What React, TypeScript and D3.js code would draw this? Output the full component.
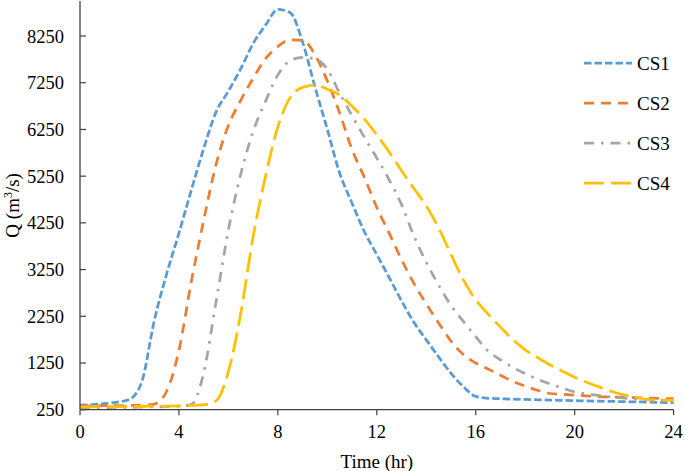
import * as d3 from 'd3';

// time steps (hr)
const hours = [
  0, 0.5, 1, 1.5, 2, 2.5, 3, 3.5, 4, 4.5, 5, 5.5, 6, 6.5, 7, 7.5, 8, 8.5, 9, 9.5, 10, 10.5, 11, 11.5, 12,
  12.5, 13, 13.5, 14, 14.5, 15, 15.5, 16, 16.5, 17, 17.5, 18, 18.5, 19, 19.5, 20, 20.5, 21, 21.5, 22, 22.5,
  23, 23.5, 24,
];

// discharge (m3/s)
const cs1 = [
  350, 360, 380, 410, 470, 850, 2150, 3150, 4030, 4950, 5840, 6620, 7070, 7550, 8090, 8480, 8820, 8750,
  8120, 7160, 6250, 5313, 4670, 4060, 3570, 3080, 2580, 2120, 1745, 1380, 1028, 744, 535, 495, 485, 475,
  470, 462, 455, 450, 443, 438, 432, 427, 422, 417, 412, 406, 400,
];
const cs2 = [
  330, 332, 335, 338, 340, 345, 370, 640, 1520, 2990, 4300, 5500, 6335, 6875, 7347, 7765, 8025, 8170,
  8160, 7850, 7287, 6600, 5817, 5220, 4580, 4030, 3463, 2956, 2516, 2107, 1720, 1430, 1250, 1120, 989, 857,
  755, 666, 597, 580, 563, 546, 529, 520, 512, 505, 497, 490, 485,
];
const cs3 = [
  290, 292, 295, 298, 300, 305, 310, 315, 325, 360, 1037, 2555, 4097, 5297, 6205, 6852, 7418, 7724, 7794,
  7760, 7538, 7023, 6544, 6080, 5640, 5172, 4643, 3970, 3406, 2918, 2482, 2140, 1814, 1506, 1319, 1156,
  1022, 904, 805, 712, 632, 590, 552, 520, 500, 479, 465, 452, 440,
];
const cs4 = [
  310, 312, 315, 318, 320, 322, 325, 328, 332, 340, 355, 440, 1063, 2313, 3954, 5243, 6306, 6937, 7150,
  7200, 7110, 6987, 6748, 6473, 6135, 5768, 5367, 4987, 4611, 4144, 3574, 3029, 2602, 2298, 2017, 1752,
  1530, 1365, 1209, 1076, 944, 832, 736, 640, 569, 516, 463, 455, 450,
];

const seriesNames = ['CS1', 'CS2', 'CS3', 'CS4'];
const seriesValues = [cs1, cs2, cs3, cs4];
const xTicks = [0, 4, 8, 12, 16, 20, 24];
const yTicks = [250, 1250, 2250, 3250, 4250, 5250, 6250, 7250, 8250];

const colors = ['#5b9bd5', '#ed7d31', '#a5a5a5', '#ffc000'];
const dashes = ['7.5 3', '10 7', '10 7 2.5 7', '20 7'];

const width = 685;
const height = 471;

export default function App() {
  const x = d3.scaleLinear().domain([0, 24]).range([80, 673.6]);
  const y = d3.scaleLinear().domain([250, 9000]).range([409.7, 1]);

  const line = d3
    .line<number>()
    .x((_, i) => x(hours[i]))
    .y((d) => y(d))
    .curve(d3.curveMonotoneX);

  const [x0, x1] = x.range();
  const [y0, y1] = y.range();
  const txt = { fontFamily: "'Liberation Serif'" };

  return (
    <svg
      width={width}
      height={height}
      viewBox={`0 0 ${width} ${height}`}
      style={{ position: 'absolute', left: 0, top: 0, background: '#fff' }}
    >
      {seriesValues.map((vals, i) => (
        <path
          key={seriesNames[i]}
          d={line(vals) ?? ''}
          fill="none"
          stroke={colors[i]}
          strokeWidth={2.75}
          strokeDasharray={dashes[i]}
        />
      ))}

      {/* axes */}
      <line x1={x0} x2={x0} y1={y1} y2={y0} stroke="#404040" strokeWidth={1.3} />
      <line x1={x0} x2={x1} y1={y0} y2={y0} stroke="#404040" strokeWidth={1.3} />

      {yTicks.map((t) => (
        <g key={`y-${t}`} transform={`translate(0,${y(t)})`}>
          <line x1={x0} x2={x0 + 6} stroke="#404040" strokeWidth={1.2} />
          <text x={64} dy="0.35em" textAnchor="end" fontSize={18.5} fill="#000" style={txt}>
            {t}
          </text>
        </g>
      ))}

      {xTicks.map((t) => (
        <g key={`x-${t}`} transform={`translate(${x(t)},0)`}>
          <line y1={y0} y2={y0 + 5.5} stroke="#404040" strokeWidth={1.2} />
          <text y={438} textAnchor="middle" fontSize={18.5} fill="#000" style={txt}>
            {t}
          </text>
        </g>
      ))}

      <text x={(x0 + x1) / 2} y={468} textAnchor="middle" fontSize={19} fill="#000" style={txt}>
        Time (hr)
      </text>
      <text
        transform={`translate(19,${(y0 + y1) / 2}) rotate(-90)`}
        textAnchor="middle"
        fontSize={19}
        fill="#000"
        style={txt}
      >
        Q (m
        <tspan fontSize={12} dy={-7}>
          3
        </tspan>
        <tspan dy={7}>/s)</tspan>
      </text>

      {/* legend */}
      {seriesNames.map((name, i) => {
        const ly = 63 + i * 40;
        return (
          <g key={`leg-${name}`}>
            <line
              x1={584}
              x2={632}
              y1={ly}
              y2={ly}
              stroke={colors[i]}
              strokeWidth={2.75}
              strokeDasharray={dashes[i]}
            />
            <text x={637} y={ly} dy="0.35em" fontSize={19} fill="#000" style={txt}>
              {name}
            </text>
          </g>
        );
      })}
    </svg>
  );
}
